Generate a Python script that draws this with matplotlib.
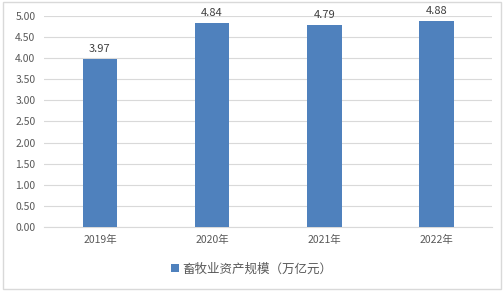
import matplotlib.pyplot as plt
from matplotlib.patches import Rectangle

plt.rcParams['font.family'] = ['Noto Sans CJK SC', 'DejaVu Sans']

years = ['2019年', '2020年', '2021年', '2022年']
values = [3.97, 4.84, 4.79, 4.88]
label = '畜牧业资产规模（万亿元）'

fig = plt.figure(figsize=(5.04, 2.91), dpi=100)
ax = fig.add_axes([0.087, 0.22, 0.89, 0.725])

x = range(len(years))
bars = ax.bar(x, values, width=0.31, color='#4f81bd', label=label, zorder=3)
for i, v in enumerate(values):
    ax.text(i, v + 0.12, f'{v:.2f}', ha='center', va='bottom', fontsize=8, color='#404040')

ax.set_xlim(-0.5, len(years) - 0.5)
ax.set_ylim(0, 5)
ax.set_yticks([i * 0.5 for i in range(11)])
ax.set_yticklabels([f'{i * 0.5:.2f}' for i in range(11)])
ax.set_xticks(list(x))
ax.set_xticklabels(years)
ax.tick_params(length=0, labelsize=7.5, colors='#595959')
ax.tick_params(axis='x', pad=6)
ax.tick_params(axis='y', pad=6)
ax.grid(axis='y', color='#d9d9d9', linewidth=0.8, zorder=0)
for s in ['top', 'right', 'left']:
    ax.spines[s].set_visible(False)
ax.spines['bottom'].set_color('#d9d9d9')

fig.legend(handles=[bars], labels=[label], loc='center', bbox_to_anchor=(0.5, 0.075),
           frameon=False, fontsize=9, handlelength=0.6, handleheight=0.6,
           handletextpad=0.3, labelcolor='#595959')

fig.patches.append(Rectangle((0.006, 0.006), 0.988, 0.988, transform=fig.transFigure,
                             fill=False, edgecolor='#d9d9d9', linewidth=1))

fig.savefig('out.png', dpi=100)
